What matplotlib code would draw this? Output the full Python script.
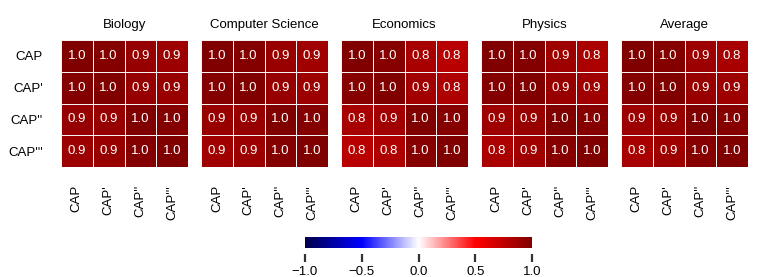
import numpy as np
import matplotlib
matplotlib.use("Agg")
import matplotlib.pyplot as plt

plt.rcParams['font.family'] = ['Liberation Sans', 'DejaVu Sans']

labels = ["CAP", "CAP'", "CAP''", "CAP'''"]
subjects = ["Biology", "Computer Science", "Economics", "Physics", "Average"]

biology = [[1.00, 0.98, 0.91, 0.89],
           [0.98, 1.00, 0.91, 0.90],
           [0.91, 0.91, 1.00, 0.98],
           [0.89, 0.90, 0.98, 1.00]]
computer_science = [[1.00, 0.98, 0.90, 0.87],
                    [0.98, 1.00, 0.91, 0.89],
                    [0.90, 0.91, 1.00, 0.98],
                    [0.87, 0.89, 0.98, 1.00]]
economics = [[1.00, 0.97, 0.84, 0.78],
             [0.97, 1.00, 0.86, 0.82],
             [0.84, 0.86, 1.00, 0.97],
             [0.78, 0.82, 0.97, 1.00]]
physics = [[1.00, 0.98, 0.88, 0.83],
           [0.98, 1.00, 0.90, 0.87],
           [0.88, 0.90, 1.00, 0.97],
           [0.83, 0.87, 0.97, 1.00]]
average = [[1.00, 0.98, 0.89, 0.84],
           [0.98, 1.00, 0.90, 0.88],
           [0.89, 0.90, 1.00, 0.97],
           [0.84, 0.88, 0.97, 1.00]]
matrices = [biology, computer_science, economics, physics, average]

W, H = 761, 277
fig = plt.figure(figsize=(W / 100, H / 100), dpi=100)

for i, (name, m) in enumerate(zip(subjects, matrices)):
    m = np.array(m)
    ax = fig.add_axes([(61 + 140 * i) / W, (H - 167) / H, 127 / W, 127 / H])
    mesh = ax.pcolormesh(m, cmap='seismic', vmin=-1, vmax=1,
                         edgecolors='#f4f4f4', linewidth=0.5)
    for r in range(4):
        for c in range(4):
            ax.text(c + 0.5, r + 0.5, f"{m[r, c]:.1f}", ha='center', va='center',
                    color='white', fontsize=9.5)
    ax.set_xlim(0, 4)
    ax.set_ylim(4, 0)
    ax.set_xticks(np.arange(4) + 0.5)
    ax.set_xticklabels(labels, rotation=90, fontsize=9.5)
    ax.set_yticks(np.arange(4) + 0.5)
    if i == 0:
        ax.set_yticklabels(labels, fontsize=9.5)
    else:
        ax.set_yticklabels([])
    ax.tick_params(length=0, pad=13)
    for s in ax.spines.values():
        s.set_visible(False)
    ax.set_title(name, fontsize=9.5, pad=9)

# colorbar, ticks pushed a little below the bar
cax = fig.add_axes([305 / W, (H - 248) / H, 227 / W, 11 / H])
cb = fig.colorbar(mesh, cax=cax, orientation='horizontal')
cb.outline.set_visible(False)
cb.set_ticks([-1.0, -0.5, 0.0, 0.5, 1.0])
cax.spines['bottom'].set_position(('outward', 4))
cax.tick_params(axis='x', length=6, width=1.6, color='#333333', labelsize=9.5, pad=3)

fig.savefig("out.png", dpi=100)
